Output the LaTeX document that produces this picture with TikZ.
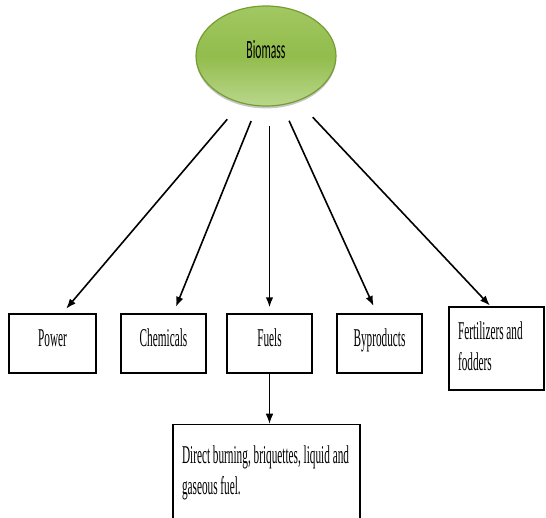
\documentclass[tikz,border=0pt]{standalone}
\usepackage{graphicx}
\usepackage{fontspec}
\setmainfont{Liberation Serif}
\newfontfamily\ovalfont{Carlito}
\usetikzlibrary{arrows.meta,positioning,shapes.geometric,shadows}

\definecolor{bioTop}{RGB}{162,200,98}
\definecolor{bioMid}{RGB}{146,188,76}
\definecolor{bioBot}{RGB}{186,215,140}
\definecolor{bioRim}{RGB}{118,156,52}

\newcommand{\narrowtext}[1]{\scalebox{0.44}[1]{#1}}

\tikzset{
    box/.style={draw, line width=0.7pt, inner sep=0pt},
    item/.style={box, minimum width=42.5pt, minimum height=29.5pt, text height=8pt, text depth=5pt},
    arr/.style={line width=0.8pt, -{Latex[length=5pt,width=3.8pt]}},
}

\begin{document}
\begin{tikzpicture}[x=0.5pt, y=-0.5pt, font=\fontsize{12.8}{15.5}\selectfont]
    \useasboundingbox (0,0) rectangle (546,518);

    \node[ellipse, minimum width=70pt, minimum height=50pt, inner sep=0pt,
        top color=bioTop, bottom color=bioBot, middle color=bioMid,
        draw=bioRim, line width=0.6pt, text height=8.5pt, text depth=5.5pt,
        drop shadow={shadow xshift=0pt, shadow yshift=-1.2pt, fill=black!50, opacity=0.45},
        font=\ovalfont\fontsize{13.2}{15}\selectfont] (bio) at (266,56) {\narrowtext{Biomass}};

    \node[item, minimum width=43.5pt] (power) at (52.5,343.5) {\narrowtext{Power}};
    \node[item] (chem) at (163.5,343.5) {\narrowtext{Chemicals}};
    \node[item] (fuels) at (269.5,343.5) {\narrowtext{Fuels}};
    \node[item] (byprod) at (379.5,343.5) {\narrowtext{Byproducts}};
    \node[box, minimum width=47.5pt, minimum height=41.5pt, inner xsep=4.5pt] (fert) at (496.5,348.5)
        {\parbox{38.5pt}{\narrowtext{\begin{tabular}{@{}l@{}}Fertilizers and\\fodders\end{tabular}}}};

    \node[box, below=25pt of fuels, xshift=-1.5pt, inner xsep=4.5pt, inner ysep=8.65pt] (detail)
        {\parbox[c][36.2pt][t]{84.5pt}{\narrowtext{\begin{tabular}{@{}l@{}}Direct burning, briquettes, liquid and\\gaseous fuel.\end{tabular}}}};

    \draw[arr, shorten <=10.5pt, shorten >=3pt] (bio.242) -- (power.72);
    \draw[arr, shorten <=8pt, shorten >=3.5pt] (bio.260) -- (chem.72);
    \draw[arr, shorten <=9.5pt, shorten >=3pt] (bio.south -| fuels.north) -- (fuels.north);
    \draw[arr, shorten <=8.5pt, shorten >=4pt] (bio.288) -- (byprod.95);
    \draw[arr, shorten <=11pt, shorten >=0.5pt] (bio.305) -- (fert.98);
    \draw[arr, line width=0.5pt] (fuels.south) -- (fuels.south |- detail.north);
\end{tikzpicture}
\end{document}
